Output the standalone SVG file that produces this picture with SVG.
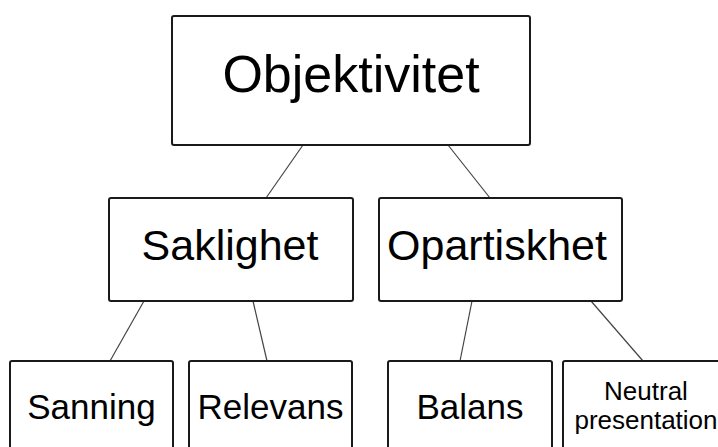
<svg xmlns="http://www.w3.org/2000/svg" width="718" height="447" viewBox="0 0 718 447">
<style>
.box{fill:#fff;stroke:#1a1a1a;stroke-width:2}
.t{font-family:"Liberation Sans",Arial,sans-serif;fill:#000;text-anchor:middle}
.c{stroke:#444;stroke-width:1.2;fill:none}
</style>
<rect width="718" height="447" fill="#fff"/>
<g id="connectors">
<line class="c" x1="303" y1="145" x2="266" y2="198"/>
<line class="c" x1="448" y1="145" x2="490" y2="198"/>
<line class="c" x1="144" y1="301" x2="110" y2="361"/>
<line class="c" x1="253" y1="301" x2="267" y2="361"/>
<line class="c" x1="472" y1="301" x2="460" y2="361"/>
<line class="c" x1="591" y1="301" x2="643" y2="361"/>
</g>
<g id="objektivitet">
<rect class="box" x="172" y="16" width="358" height="129" rx="2"/>
<text class="t" x="351" y="92" font-size="52">Objektivitet</text>
</g>
<g id="saklighet">
<rect class="box" x="109" y="198" width="244" height="103" rx="2"/>
<text class="t" x="230" y="260" font-size="43">Saklighet</text>
</g>
<g id="opartiskhet">
<rect class="box" x="379" y="198" width="243" height="103" rx="2"/>
<text class="t" x="497" y="260" font-size="43">Opartiskhet</text>
</g>
<g id="sanning">
<rect class="box" x="10" y="361" width="163" height="100" rx="2"/>
<text class="t" x="91.5" y="419" font-size="35">Sanning</text>
</g>
<g id="relevans">
<rect class="box" x="189" y="361" width="163" height="100" rx="2"/>
<text class="t" x="270.5" y="419" font-size="35">Relevans</text>
</g>
<g id="balans">
<rect class="box" x="388" y="361" width="164" height="100" rx="2"/>
<text class="t" x="470" y="419" font-size="35">Balans</text>
</g>
<g id="neutral">
<rect class="box" x="563" y="361" width="164" height="100" rx="2"/>
<text class="t" x="646" y="400" font-size="26">Neutral</text>
<text class="t" x="646" y="429" font-size="26">presentation</text>
</g>
</svg>
